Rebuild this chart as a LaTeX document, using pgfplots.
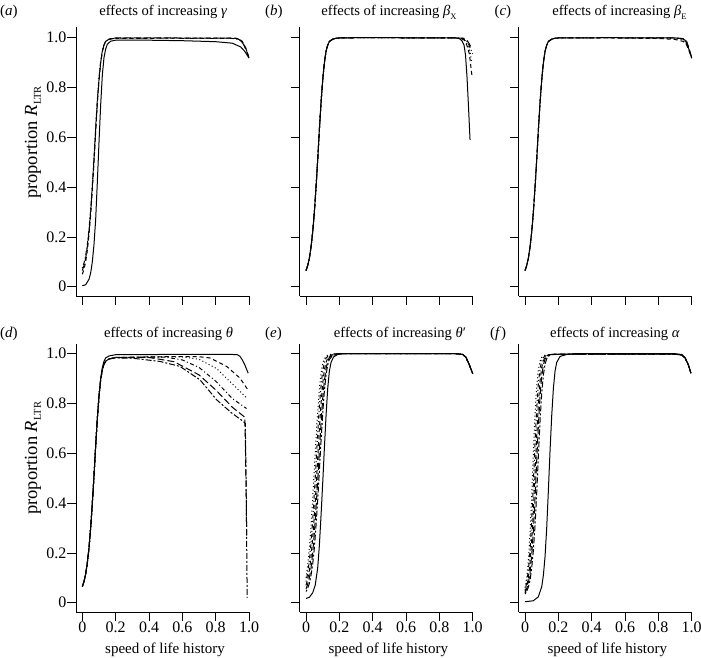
\documentclass[border=0pt]{standalone}
\usepackage{fontspec}
\setmainfont{Liberation Serif}
\usepackage{pgfplots}
\pgfplotsset{compat=1.18}
\newcommand\sub[1]{\raisebox{-3.2pt}{\fontsize{8.5}{9}\selectfont #1}}
\newcommand\subL[1]{\raisebox{-3.8pt}{\fontsize{10.5}{11}\selectfont #1}}
\newcommand\txt{\fontsize{15}{18}\selectfont}
\newcommand\ttl{\fontsize{14.6}{18}\selectfont}
\newcommand\tck{\fontsize{16}{18}\selectfont}
\newcommand\ylb{\fontsize{18.5}{20}\selectfont}
\pgfplotsset{
  panel/.style={
    scale only axis, width=173pt, height=268.7pt,
    xmin=-0.038, xmax=1, ymin=-0.038, ymax=1.041,
    axis x line*=bottom, axis y line*=left,
    axis line style={-, line width=0.8pt, black},
    tick align=outside, major tick length=8.5pt,
    tick style={black, line width=0.8pt},
    xtick={0,0.2,0.4,0.6,0.8,1}, ytick={0,0.2,0.4,0.6,0.8,1},
    xticklabels={}, yticklabels={},
    ticklabel style={font=\tck},
    xticklabel style={inner sep=0pt, yshift=-0.5pt},
    yticklabel style={inner sep=0.8pt},
    clip=false,
    every axis plot/.append style={black, line width=1pt, line join=round, mark=none},
  },
  lsolid/.style={solid},
  ldash/.style={dash pattern=on 4pt off 3pt},
  ldot/.style={dash pattern=on 1pt off 2.5pt},
  ldotdash/.style={dash pattern=on 1pt off 2.5pt on 4pt off 2.5pt},
  llong/.style={dash pattern=on 7pt off 3pt},
  ltwo/.style={dash pattern=on 2pt off 2pt on 6pt off 2pt},
}
\begin{document}
\begin{tikzpicture}[x=1pt,y=1pt]
\useasboundingbox (0,0) rectangle (701,657);

% ---------------- (a)
\begin{axis}[panel, at={(76pt,360.8pt)}, anchor=south west,
  yticklabels={0,0.2,0.4,0.6,0.8,1.0}]
\addplot[lsolid] coordinates {(0,0.004)(0.02,0.008)(0.04,0.03)(0.05,0.055)(0.06,0.10)(0.07,0.17)(0.08,0.27)(0.09,0.42)(0.1,0.58)(0.11,0.73)(0.12,0.85)(0.13,0.92)(0.14,0.955)(0.15,0.974)(0.17,0.986)(0.2,0.99)(0.4,0.99)(0.6,0.988)(0.8,0.984)(0.9,0.978)(0.95,0.963)(0.975,0.945)(1,0.918)};
\addplot[ldash] coordinates {(0,0.05)(0.01,0.07)(0.02,0.10)(0.03,0.145)(0.04,0.21)(0.05,0.29)(0.06,0.39)(0.07,0.50)(0.08,0.62)(0.09,0.74)(0.1,0.83)(0.11,0.90)(0.12,0.945)(0.13,0.97)(0.14,0.985)(0.16,0.994)(0.2,0.997)(0.5,0.998)(0.9,0.998)(0.94,0.996)(0.96,0.985)(0.98,0.96)(1,0.92)};
\addplot[llong] coordinates {(0,0.065)(0.01,0.085)(0.02,0.115)(0.03,0.16)(0.04,0.22)(0.05,0.30)(0.06,0.40)(0.07,0.51)(0.08,0.63)(0.09,0.74)(0.1,0.83)(0.11,0.90)(0.12,0.945)(0.13,0.97)(0.14,0.985)(0.16,0.994)(0.18,0.998)(0.2,0.999)(0.5,0.999)(0.92,0.998)(0.95,0.99)(0.97,0.97)(0.985,0.945)(1,0.92)};
\addplot[ldotdash] coordinates {(0,0.075)(0.01,0.095)(0.02,0.125)(0.03,0.17)(0.04,0.23)(0.05,0.31)(0.06,0.41)(0.07,0.52)(0.08,0.64)(0.09,0.75)(0.1,0.84)(0.11,0.905)(0.12,0.948)(0.13,0.972)(0.14,0.986)(0.16,0.994)(0.2,0.998)(0.5,0.998)(0.9,0.997)(0.94,0.993)(0.965,0.978)(0.985,0.95)(1,0.92)};
\end{axis}

% ---------------- (b)
\begin{axis}[panel, at={(299.7pt,360.8pt)}, anchor=south west]
\addplot[ldash] coordinates {(0,0.065)(0.01,0.085)(0.02,0.115)(0.03,0.16)(0.04,0.22)(0.05,0.30)(0.06,0.40)(0.07,0.51)(0.08,0.63)(0.09,0.74)(0.1,0.83)(0.11,0.90)(0.12,0.945)(0.13,0.97)(0.14,0.985)(0.16,0.994)(0.18,0.998)(0.2,0.999)(0.3,1)(0.5,1)(0.9,0.999)(0.93,0.997)(0.95,0.99)(0.965,0.97)(0.98,0.935)(0.995,0.85)};
\addplot[ldot] coordinates {(0,0.065)(0.01,0.085)(0.02,0.115)(0.03,0.16)(0.04,0.22)(0.05,0.30)(0.06,0.40)(0.07,0.51)(0.08,0.63)(0.09,0.74)(0.1,0.83)(0.11,0.90)(0.12,0.945)(0.13,0.97)(0.14,0.985)(0.16,0.994)(0.18,0.998)(0.2,0.999)(0.3,1)(0.5,1)(0.9,0.999)(0.935,0.996)(0.955,0.988)(0.97,0.97)(0.985,0.94)(0.995,0.90)};
\addplot[ldotdash] coordinates {(0,0.065)(0.01,0.085)(0.02,0.115)(0.03,0.16)(0.04,0.22)(0.05,0.30)(0.06,0.40)(0.07,0.51)(0.08,0.63)(0.09,0.74)(0.1,0.83)(0.11,0.90)(0.12,0.945)(0.13,0.97)(0.14,0.985)(0.16,0.994)(0.18,0.998)(0.2,0.999)(0.3,1)(0.5,1)(0.9,0.999)(0.94,0.997)(0.96,0.99)(0.975,0.975)(0.99,0.95)(1,0.935)};
\addplot[llong] coordinates {(0,0.065)(0.01,0.085)(0.02,0.115)(0.03,0.16)(0.04,0.22)(0.05,0.30)(0.06,0.40)(0.07,0.51)(0.08,0.63)(0.09,0.74)(0.1,0.83)(0.11,0.90)(0.12,0.945)(0.13,0.97)(0.14,0.985)(0.16,0.994)(0.18,0.998)(0.2,0.999)(0.3,1)(0.5,1)(0.9,0.999)(0.945,0.998)(0.965,0.99)(0.98,0.975)(0.995,0.955)};
\addplot[lsolid] coordinates {(0,0.065)(0.01,0.085)(0.02,0.115)(0.03,0.16)(0.04,0.22)(0.05,0.30)(0.06,0.40)(0.07,0.51)(0.08,0.63)(0.09,0.74)(0.1,0.83)(0.11,0.90)(0.12,0.945)(0.13,0.97)(0.14,0.985)(0.16,0.994)(0.18,0.998)(0.2,0.999)(0.3,1)(0.5,1)(0.9,0.999)(0.92,0.996)(0.935,0.988)(0.948,0.97)(0.957,0.93)(0.966,0.84)(0.975,0.72)(0.984,0.59)};
\end{axis}

% ---------------- (c)
\begin{axis}[panel, at={(518.7pt,360.8pt)}, anchor=south west]
\addplot[ldash] coordinates {(0,0.065)(0.01,0.085)(0.02,0.115)(0.03,0.16)(0.04,0.22)(0.05,0.30)(0.06,0.40)(0.07,0.51)(0.08,0.63)(0.09,0.74)(0.1,0.83)(0.11,0.90)(0.12,0.945)(0.13,0.97)(0.14,0.985)(0.16,0.994)(0.18,0.998)(0.2,0.999)(0.5,0.999)(0.8,0.997)(0.9,0.993)(0.95,0.985)(0.97,0.97)(0.985,0.945)(1,0.918)};
\addplot[ldot] coordinates {(0,0.065)(0.01,0.085)(0.02,0.115)(0.03,0.16)(0.04,0.22)(0.05,0.30)(0.06,0.40)(0.07,0.51)(0.08,0.63)(0.09,0.74)(0.1,0.83)(0.11,0.90)(0.12,0.945)(0.13,0.97)(0.14,0.985)(0.16,0.994)(0.18,0.998)(0.2,0.999)(0.5,1)(0.85,0.999)(0.92,0.995)(0.95,0.99)(0.975,0.968)(1,0.92)};
\addplot[llong] coordinates {(0,0.065)(0.01,0.085)(0.02,0.115)(0.03,0.16)(0.04,0.22)(0.05,0.30)(0.06,0.40)(0.07,0.51)(0.08,0.63)(0.09,0.74)(0.1,0.83)(0.11,0.90)(0.12,0.945)(0.13,0.97)(0.14,0.985)(0.16,0.994)(0.18,0.998)(0.2,0.999)(0.5,1)(0.9,0.999)(0.95,0.996)(0.97,0.985)(0.985,0.955)(1,0.92)};
\addplot[lsolid] coordinates {(0,0.065)(0.01,0.085)(0.02,0.115)(0.03,0.16)(0.04,0.22)(0.05,0.30)(0.06,0.40)(0.07,0.51)(0.08,0.63)(0.09,0.74)(0.1,0.83)(0.11,0.90)(0.12,0.945)(0.13,0.97)(0.14,0.985)(0.16,0.994)(0.18,0.998)(0.2,0.999)(0.5,1)(0.9,0.999)(0.94,0.997)(0.96,0.99)(0.975,0.97)(0.99,0.94)(1,0.918)};
\end{axis}

% ---------------- (d)
\begin{axis}[panel, at={(76pt,44.8pt)}, anchor=south west,
  xticklabels={0,0.2,0.4,0.6,0.8,1.0}, yticklabels={0,0.2,0.4,0.6,0.8,1.0}]
\addplot[ldash] coordinates {(0,0.065)(0.01,0.085)(0.02,0.115)(0.03,0.16)(0.04,0.22)(0.05,0.30)(0.06,0.40)(0.07,0.51)(0.08,0.63)(0.09,0.74)(0.1,0.83)(0.11,0.895)(0.12,0.935)(0.13,0.958)(0.14,0.97)(0.16,0.979)(0.2,0.985)(0.5,0.988)(0.7,0.988)(0.766,0.983)(0.866,0.949)(0.946,0.902)(0.99,0.858)};
\addplot[ldot] coordinates {(0,0.065)(0.01,0.085)(0.02,0.115)(0.03,0.16)(0.04,0.22)(0.05,0.30)(0.06,0.40)(0.07,0.51)(0.08,0.63)(0.09,0.74)(0.1,0.83)(0.11,0.895)(0.12,0.935)(0.13,0.958)(0.14,0.97)(0.16,0.979)(0.2,0.985)(0.4,0.987)(0.6,0.987)(0.7,0.978)(0.806,0.94)(0.906,0.875)(0.99,0.82)};
\addplot[ldotdash] coordinates {(0,0.065)(0.01,0.085)(0.02,0.115)(0.03,0.16)(0.04,0.22)(0.05,0.30)(0.06,0.40)(0.07,0.51)(0.08,0.63)(0.09,0.74)(0.1,0.83)(0.11,0.895)(0.12,0.935)(0.13,0.958)(0.14,0.97)(0.16,0.979)(0.2,0.985)(0.35,0.986)(0.5,0.986)(0.6,0.975)(0.7,0.945)(0.8,0.89)(0.9,0.82)(0.985,0.78)};
\addplot[llong] coordinates {(0,0.065)(0.01,0.085)(0.02,0.115)(0.03,0.16)(0.04,0.22)(0.05,0.30)(0.06,0.40)(0.07,0.51)(0.08,0.63)(0.09,0.74)(0.1,0.83)(0.11,0.895)(0.12,0.935)(0.13,0.958)(0.14,0.97)(0.16,0.979)(0.2,0.984)(0.4,0.985)(0.55,0.968)(0.7,0.915)(0.8,0.855)(0.9,0.785)(0.975,0.745)(0.982,0.5)(0.986,0.27)};
\addplot[ltwo] coordinates {(0,0.065)(0.01,0.085)(0.02,0.115)(0.03,0.16)(0.04,0.22)(0.05,0.30)(0.06,0.40)(0.07,0.51)(0.08,0.63)(0.09,0.74)(0.1,0.83)(0.11,0.895)(0.12,0.935)(0.13,0.958)(0.14,0.97)(0.16,0.979)(0.2,0.983)(0.3,0.982)(0.466,0.969)(0.586,0.949)(0.706,0.895)(0.806,0.815)(0.896,0.762)(0.966,0.728)(0.978,0.72)(0.984,0.4)(0.989,0.02)};
\addplot[lsolid] coordinates {(0,0.065)(0.01,0.085)(0.02,0.115)(0.03,0.16)(0.04,0.22)(0.05,0.30)(0.06,0.40)(0.07,0.51)(0.08,0.63)(0.09,0.74)(0.1,0.83)(0.11,0.90)(0.12,0.945)(0.13,0.97)(0.14,0.983)(0.16,0.991)(0.2,0.996)(0.5,0.997)(0.9,0.997)(0.93,0.996)(0.945,0.99)(0.96,0.975)(0.975,0.955)(0.995,0.922)};
\end{axis}

% ---------------- (e)
\begin{axis}[panel, at={(299.7pt,44.8pt)}, anchor=south west,
  xticklabels={0,0.2,0.4,0.6,0.8,1.0}]
\addplot[ldot] coordinates {(0,0.10)(0.01,0.15)(0.02,0.22)(0.03,0.31)(0.04,0.42)(0.05,0.54)(0.06,0.66)(0.07,0.77)(0.08,0.86)(0.09,0.92)(0.1,0.96)(0.11,0.98)(0.13,0.994)(0.16,0.999)(0.2,1)(0.5,1)(0.9,1)(0.94,0.997)(0.96,0.985)(0.98,0.955)(1,0.92)};
\addplot[ldotdash] coordinates {(0,0.085)(0.01,0.12)(0.02,0.17)(0.03,0.24)(0.04,0.33)(0.05,0.44)(0.06,0.56)(0.07,0.68)(0.08,0.79)(0.09,0.87)(0.1,0.93)(0.11,0.965)(0.12,0.983)(0.14,0.995)(0.17,0.999)(0.2,1)(0.5,1)(0.9,1)(0.94,0.997)(0.96,0.985)(0.98,0.955)(1,0.92)};
\addplot[ldash] coordinates {(0,0.07)(0.01,0.095)(0.02,0.13)(0.03,0.185)(0.04,0.26)(0.05,0.35)(0.06,0.46)(0.07,0.58)(0.08,0.70)(0.09,0.80)(0.1,0.88)(0.11,0.935)(0.12,0.965)(0.13,0.982)(0.15,0.995)(0.18,0.999)(0.21,1)(0.5,1)(0.9,1)(0.94,0.997)(0.96,0.985)(0.98,0.955)(1,0.92)};
\addplot[llong] coordinates {(0,0.055)(0.01,0.075)(0.02,0.10)(0.03,0.14)(0.04,0.20)(0.05,0.28)(0.06,0.38)(0.07,0.49)(0.08,0.61)(0.09,0.72)(0.1,0.82)(0.11,0.89)(0.12,0.94)(0.13,0.97)(0.14,0.985)(0.16,0.995)(0.2,1)(0.5,1)(0.9,1)(0.94,0.997)(0.96,0.985)(0.98,0.955)(1,0.92)};
\addplot[ltwo] coordinates {(0,0.045)(0.01,0.058)(0.02,0.078)(0.03,0.11)(0.04,0.155)(0.05,0.22)(0.06,0.31)(0.07,0.41)(0.08,0.53)(0.09,0.65)(0.1,0.76)(0.11,0.85)(0.12,0.915)(0.13,0.955)(0.14,0.977)(0.16,0.993)(0.2,1)(0.5,1)(0.9,1)(0.94,0.997)(0.96,0.985)(0.98,0.955)(1,0.92)};
\addplot[lsolid] coordinates {(0,0.017)(0.02,0.022)(0.04,0.04)(0.055,0.07)(0.07,0.14)(0.08,0.23)(0.09,0.35)(0.1,0.48)(0.11,0.62)(0.12,0.75)(0.13,0.86)(0.14,0.93)(0.15,0.965)(0.165,0.987)(0.19,0.997)(0.23,1)(0.5,1)(0.9,1)(0.94,0.997)(0.96,0.985)(0.98,0.955)(1,0.92)};
\end{axis}

% ---------------- (f)
\begin{axis}[panel, at={(518.7pt,44.8pt)}, anchor=south west,
  xticklabels={0,0.2,0.4,0.6,0.8,1.0}]
\addplot[ldot] coordinates {(0,0.06)(0.01,0.10)(0.02,0.17)(0.03,0.28)(0.04,0.43)(0.05,0.60)(0.06,0.76)(0.07,0.87)(0.08,0.935)(0.09,0.97)(0.1,0.985)(0.12,0.994)(0.15,0.997)(0.3,0.998)(0.6,0.998)(0.9,0.998)(0.94,0.995)(0.96,0.983)(0.98,0.955)(0.995,0.922)};
\addplot[ldotdash] coordinates {(0,0.05)(0.01,0.08)(0.02,0.13)(0.03,0.21)(0.04,0.33)(0.05,0.48)(0.06,0.64)(0.07,0.78)(0.08,0.88)(0.09,0.94)(0.1,0.97)(0.11,0.985)(0.13,0.994)(0.16,0.997)(0.3,0.998)(0.6,0.998)(0.9,0.998)(0.94,0.995)(0.96,0.983)(0.98,0.955)(0.995,0.922)};
\addplot[ldash] coordinates {(0,0.045)(0.01,0.065)(0.02,0.10)(0.03,0.16)(0.04,0.25)(0.05,0.37)(0.06,0.52)(0.07,0.67)(0.08,0.80)(0.09,0.89)(0.1,0.945)(0.11,0.972)(0.12,0.986)(0.14,0.995)(0.17,0.998)(0.3,0.998)(0.6,0.998)(0.9,0.998)(0.94,0.995)(0.96,0.983)(0.98,0.955)(0.995,0.922)};
\addplot[llong] coordinates {(0,0.04)(0.01,0.055)(0.02,0.08)(0.03,0.12)(0.04,0.19)(0.05,0.29)(0.06,0.42)(0.07,0.57)(0.08,0.71)(0.09,0.83)(0.1,0.91)(0.11,0.955)(0.12,0.978)(0.13,0.99)(0.15,0.996)(0.18,0.998)(0.3,0.998)(0.6,0.998)(0.9,0.998)(0.94,0.995)(0.96,0.983)(0.98,0.955)(0.995,0.922)};
\addplot[ltwo] coordinates {(0,0.035)(0.01,0.045)(0.02,0.063)(0.03,0.09)(0.04,0.14)(0.05,0.21)(0.06,0.31)(0.07,0.44)(0.08,0.59)(0.09,0.73)(0.1,0.84)(0.11,0.915)(0.12,0.958)(0.13,0.98)(0.14,0.99)(0.16,0.996)(0.2,0.998)(0.3,0.998)(0.6,0.998)(0.9,0.998)(0.94,0.995)(0.96,0.983)(0.98,0.955)(0.995,0.922)};
\addplot[lsolid] coordinates {(0,0.004)(0.05,0.008)(0.08,0.024)(0.1,0.064)(0.11,0.11)(0.12,0.185)(0.13,0.30)(0.14,0.45)(0.15,0.61)(0.16,0.75)(0.17,0.86)(0.18,0.93)(0.19,0.965)(0.21,0.989)(0.25,0.997)(0.3,1)(0.9,1)(0.94,0.997)(0.96,0.985)(0.98,0.955)(0.995,0.922)};
\end{axis}

% ---------------- titles, panel labels, axis labels
\begin{scope}[every node/.style={font=\txt, inner sep=0pt}]
\node[anchor=base west] at (0,641) {(\textit{a})};
\node[anchor=base west] at (265,641) {(\textit{b})};
\node[anchor=base west] at (494.3,641) {(\textit{c})};
\node[anchor=base west] at (0,319.7) {(\textit{d})};
\node[anchor=base west] at (265,319.7) {(\textit{e})};
\node[anchor=base west] at (490,319.7) {(\textit{f})};
\node[anchor=base, font=\ttl] at (163.3,641) {effects of increasing \textit{γ}};
\node[anchor=base, font=\ttl] at (389,641) {effects of increasing \textit{β}\sub{X}};
\node[anchor=base, font=\ttl] at (619.5,641) {effects of increasing \textit{β}\sub{E}};
\node[anchor=base, font=\ttl] at (168.5,319.7) {effects of increasing \textit{θ}};
\node[anchor=base, font=\ttl] at (400,319.7) {effects of increasing \textit{θ}′};
\node[anchor=base, font=\ttl] at (615,319.7) {effects of increasing \textit{α}};
\node[rotate=90, font=\ylb] at (33,514.5) {proportion \textit{R}\subL{LTR}};
\node[rotate=90, font=\ylb] at (33,198.7) {proportion \textit{R}\subL{LTR}};
\node[anchor=base] at (165,3.5) {speed of life history};
\node[anchor=base] at (388.3,3.5) {speed of life history};
\node[anchor=base] at (607.3,3.5) {speed of life history};
\end{scope}
\end{tikzpicture}
\end{document}
